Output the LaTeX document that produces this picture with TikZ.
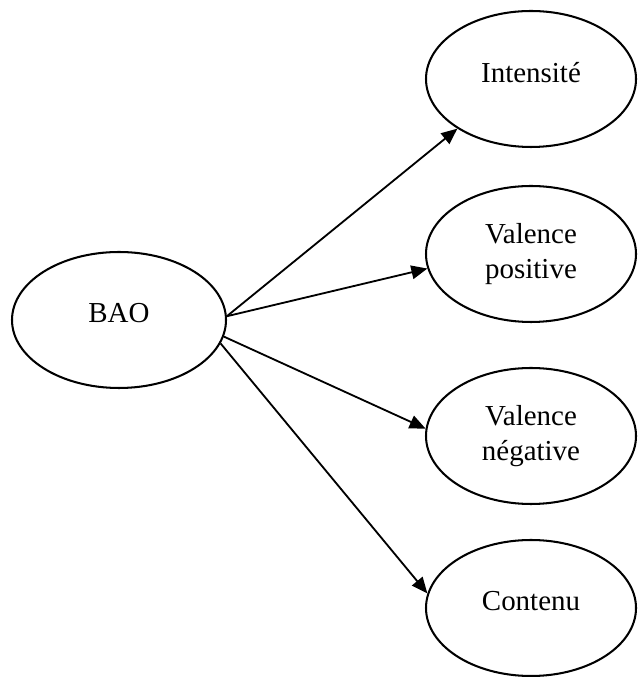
\documentclass[tikz,border=0pt]{standalone}
\usepackage{fontspec}
\setmainfont{Liberation Serif}
\usetikzlibrary{shapes.geometric,arrows.meta}

\tikzset{
        bubble/.style={ellipse,draw,line width=1.45pt,minimum width=5.25cm,minimum height=3.4cm,
                inner sep=0pt,align=center,font=\fontsize{20.6}{25}\selectfont},
        oneline/.style={text depth=10pt},
        link/.style={-{Triangle[length=0.4cm,width=0.34cm]},line width=1.3pt}
}

\begin{document}
\begin{tikzpicture}
        \useasboundingbox (0,0) rectangle (15.95,16.925);

        \node[bubble,oneline,minimum width=5.35cm] (bao) at (2.975,8.925) {BAO};

        \node[bubble,oneline] (intens) at (13.275,14.95) {Intensité};
        \node[bubble] (valpos) at (13.275,10.575) {Valence\\positive};
        \node[bubble] (valneg) at (13.275,6.025) {Valence\\négative};
        \node[bubble,oneline] (contenu) at (13.275,1.725) {Contenu};

        \draw[link] (bao.2) -- (intens.214);
        \draw[link] (bao.2) -- (valpos.188);
        \draw[link] (bao.-9) -- (valneg.176);
        \draw[link] (bao.-13) -- (contenu.172);
\end{tikzpicture}
\end{document}
